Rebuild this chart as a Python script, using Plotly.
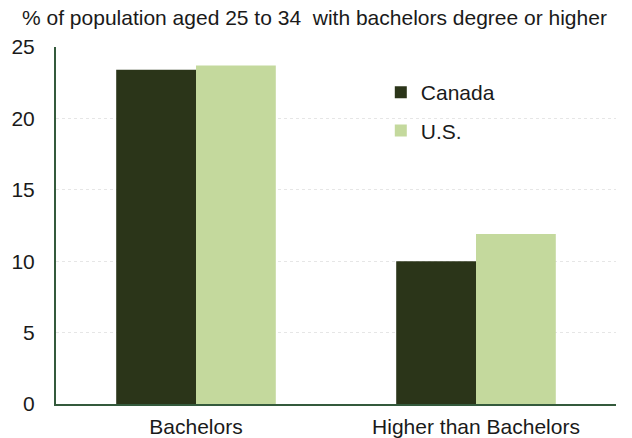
import plotly.graph_objects as go

categories = ["Bachelors", "Higher than Bachelors"]
canada = [23.4, 10.0]
us = [23.7, 11.9]
y_ticks = [0, 5, 10, 15, 20, 25]

fig = go.Figure()
fig.add_trace(go.Bar(x=categories, y=canada, name="Canada", legendgroup="ca",
                     marker_color="#2b3519", marker_line_width=0))
fig.add_trace(go.Bar(x=categories, y=us, name="U.S.", legendgroup="us",
                     marker_color="#c4d99d", marker_line_width=0))

fig.update_layout(
    width=632, height=438,
    margin=dict(l=56, r=16, t=47, b=34),
    paper_bgcolor="white", plot_bgcolor="white",
    font=dict(family="Liberation Sans, Arial, sans-serif", size=21, color="#1a1a1a"),
    barmode="group", bargap=0.43, bargroupgap=0,
    showlegend=True,
    legend=dict(x=0.58, y=0.93, xanchor="left", yanchor="top", bgcolor="rgba(0,0,0,0)",
                font=dict(size=21), itemwidth=30, tracegroupgap=8),
    annotations=[dict(text="% of population aged 25 to 34  with bachelors degree or higher",
                      xref="paper", yref="paper", x=-0.064, y=1.0, xanchor="left", yanchor="bottom",
                      yshift=16, showarrow=False, font=dict(size=21))],
)
fig.update_yaxes(range=[0, 25], tickvals=y_ticks, showline=True, linecolor="#345a3c", linewidth=2,
                 showgrid=True, gridcolor="#e6e6e6", griddash="dot", gridwidth=1,
                 ticks="", ticklen=0, zeroline=False, tickfont=dict(size=21), ticklabelstandoff=15,
                 automargin=False)
fig.update_xaxes(showline=True, linecolor="#345a3c", linewidth=2, ticks="", tickfont=dict(size=21),
                 ticklabelstandoff=3, automargin=False)

fig.write_html("out.html")
